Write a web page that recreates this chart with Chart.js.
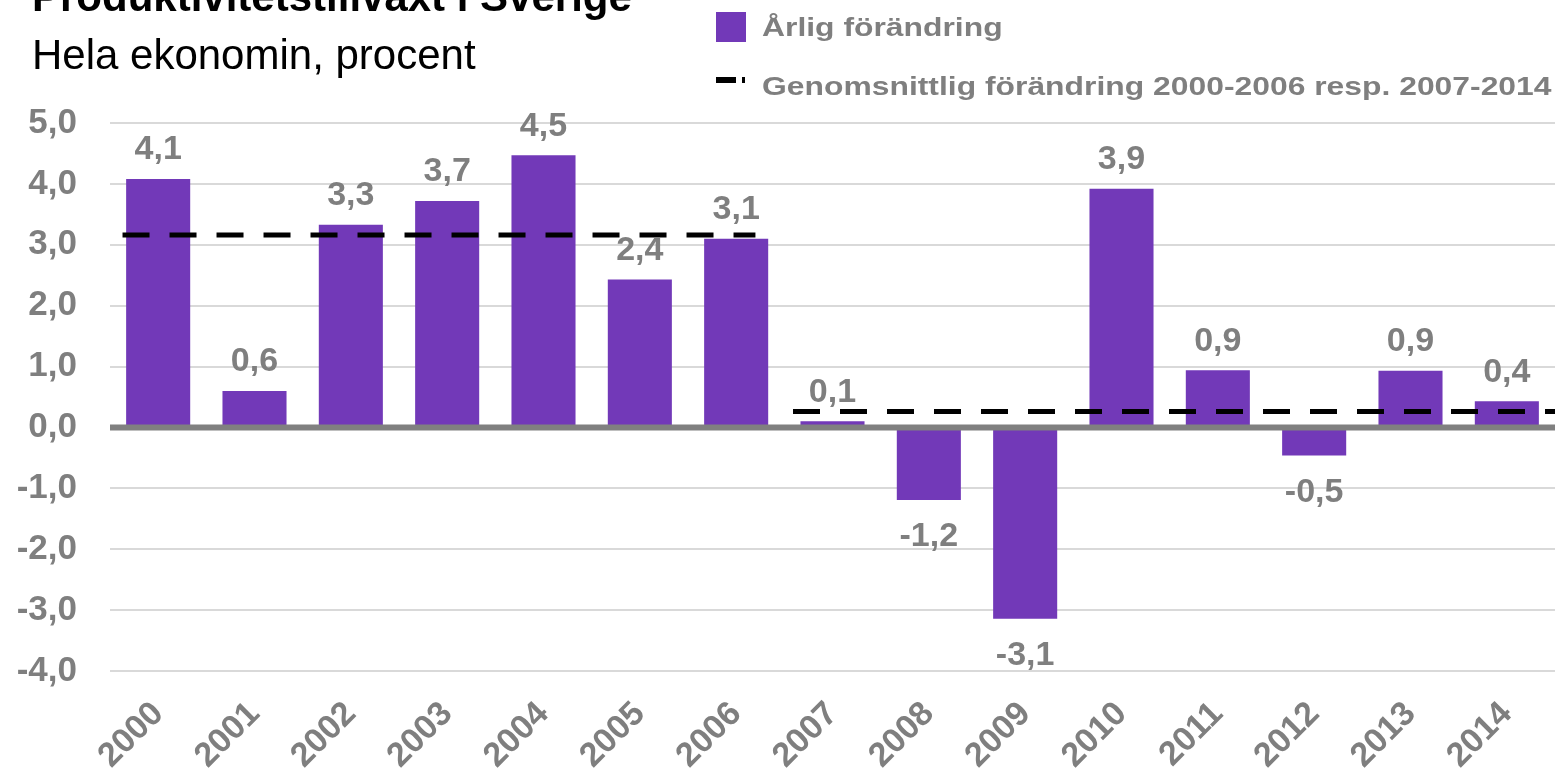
<!DOCTYPE html>
<html>
<head>
<meta charset="utf-8">
<script src="https://cdn.jsdelivr.net/npm/chart.js@4.4.0/dist/chart.umd.min.js"></script>
<style>
  body { margin: 0; background: #fff; }
  #wrap { position: relative; width: 1565px; height: 776px; overflow: hidden; font-family: "Liberation Sans", Arial, sans-serif; }
  #wrap canvas { position: absolute; left: 0; top: 0; }
  .txt { position: absolute; white-space: nowrap; line-height: 1; }
  .title { left: 32px; top: -24px; font-size: 42px; font-weight: bold; color: #000; }
  .sub { left: 32px; top: 34px; font-size: 42px; color: #000; }
  .leg { left: 762px; font-size: 26px; font-weight: bold; color: #7f7f7f; transform: scaleX(1.225); transform-origin: 0 0; }
  .box { position: absolute; left: 716px; top: 12px; width: 30px; height: 30px; background: #7239b8; }
  .dash1 { position: absolute; left: 716px; top: 77px; width: 20px; height: 6px; background: #000; }
  .dash2 { position: absolute; left: 742px; top: 77px; width: 3px; height: 6px; background: #000; }
</style>
</head>
<body>
<div id="wrap">
  <canvas id="chart" width="1565" height="776"></canvas>
  <div class="txt title">Produktivitetstillväxt i Sverige</div>
  <div class="txt sub">Hela ekonomin, procent</div>
  <div class="box"></div>
  <div class="txt leg" style="top:14px">Årlig förändring</div>
  <div class="dash1"></div><div class="dash2"></div>
  <div class="txt leg" style="top:73px">Genomsnittlig förändring 2000-2006 resp. 2007-2014</div>
</div>
<script>
// arlig forandring, procent
const years = ['2000','2001','2002','2003','2004','2005','2006','2007','2008','2009','2010','2011','2012','2013','2014']
const growth = [4.08, 0.6, 3.33, 3.72, 4.47, 2.43, 3.1, 0.1, -1.19, -3.14, 3.92, 0.94, -0.46, 0.93, 0.43]

// genomsnitt per period (from/to i kategori-index, avlast ur bilden)
const avgValues = [3.16, 0.26]
const avgFrom = [-0.37, 6.59]
const avgTo = [6.2, 14.5]

const yTicks = [-4, -3, -2, -1, 0, 1, 2, 3, 4, 5]

const lila = '#7239b8', gra = '#7f7f7f', font = '"Liberation Sans", Arial, sans-serif'
const komma = v => v.toFixed(1).replace('.', ',')

const etiketter = {
  id: 'etiketter',
  afterDatasetsDraw(chart) {
    const {ctx, chartArea: {left, right}, scales: {y}} = chart
    // nollinjen ovanpa staplarna
    ctx.save()
    ctx.strokeStyle = '#808080'
    ctx.lineWidth = 6
    ctx.beginPath()
    ctx.moveTo(left, y.getPixelForValue(0))
    ctx.lineTo(right, y.getPixelForValue(0))
    ctx.stroke()

    ctx.font = 'bold 34px ' + font
    ctx.fillStyle = gra
    ctx.textAlign = 'center'
    ctx.textBaseline = 'middle'
    chart.getDatasetMeta(0).data.forEach((bar, i) => {
      const v = growth[i]
      ctx.fillText(komma(v), bar.x, v >= 0 ? bar.y - 29 : bar.y + 37)
    })
    ctx.restore()
  }
}

const lines = avgValues.map((v, i) => ({
  type: 'line',
  xAxisID: 'xl',
  data: [{x: avgFrom[i], y: v}, {x: avgTo[i], y: v}],
  borderColor: '#000',
  borderWidth: 5,
  borderDash: [27, 20],
  borderCapStyle: 'butt',
  pointRadius: 0,
  fill: false,
  order: 0
}))

new Chart(document.getElementById('chart'), {
  type: 'bar',
  data: {
    labels: years,
    datasets: [{
      data: growth,
      backgroundColor: lila,
      borderWidth: 0,
      barPercentage: 0.665,
      categoryPercentage: 1,
      grouped: false,
      order: 1
    }, ...lines]
  },
  options: {
    responsive: false,
    animation: false,
    devicePixelRatio: 1,
    layout: {padding: {top: 123, right: 10, left: 0, bottom: 0}},
    plugins: {legend: {display: false}, tooltip: {enabled: false}},
    scales: {
      x: {
        grid: {display: false},
        border: {display: false},
        ticks: {
          color: gra,
          font: {family: font, size: 34, weight: 'bold'},
          minRotation: 45, maxRotation: 45,
          autoSkip: false,
          padding: 15
        },
        afterFit(s) { s.height = 105 }
      },
      xl: {
        type: 'linear',
        display: false,
        offset: false,
        grid: {offset: false},
        min: -0.5, max: 14.5
      },
      y: {
        min: yTicks[0], max: yTicks[yTicks.length - 1],
        afterBuildTicks(s) { s.ticks = yTicks.map(v => ({value: v})) },
        grid: {
          drawTicks: false,
          color: c => c.tick && c.tick.value === 0 ? '#808080' : '#d9d9d9',
          lineWidth: 2
        },
        border: {display: false},
        ticks: {
          color: gra,
          font: {family: font, size: 35, weight: 'bold'},
          padding: 33,
          callback: v => komma(v)
        },
        afterFit(s) { s.width = 110 }
      }
    }
  },
  plugins: [etiketter]
})
</script>
</body>
</html>
